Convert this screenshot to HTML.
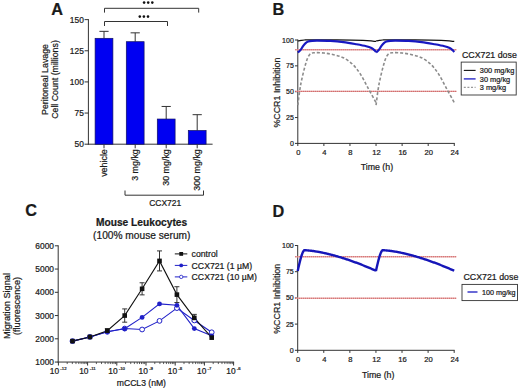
<!DOCTYPE html>
<html><head><meta charset="utf-8"><style>
html,body{margin:0;padding:0;background:#fff;}
body{width:520px;height:388px;overflow:hidden;}
svg{display:block;font-family:"Liberation Sans",sans-serif;}
text{stroke:#1a1a1a;stroke-width:0.22px;}
</style></head><body>
<svg width="520" height="388" viewBox="0 0 520 388">
<rect width="520" height="388" fill="#fff"/>
<text x="51.20" y="15.30" font-size="16.3" text-anchor="start" fill="#1a1a1a" font-weight="bold" >A</text>
<line x1="88.40" y1="19.14" x2="88.40" y2="144.70" stroke="#333" stroke-width="1" />
<line x1="84.60" y1="19.64" x2="88.40" y2="19.64" stroke="#333" stroke-width="1" />
<text x="83.80" y="22.64" font-size="8.4" text-anchor="end" fill="#1a1a1a" >150</text>
<line x1="84.60" y1="50.78" x2="88.40" y2="50.78" stroke="#333" stroke-width="1" />
<text x="83.80" y="53.78" font-size="8.4" text-anchor="end" fill="#1a1a1a" >125</text>
<line x1="84.60" y1="81.92" x2="88.40" y2="81.92" stroke="#333" stroke-width="1" />
<text x="83.80" y="84.92" font-size="8.4" text-anchor="end" fill="#1a1a1a" >100</text>
<line x1="84.60" y1="113.06" x2="88.40" y2="113.06" stroke="#333" stroke-width="1" />
<text x="83.80" y="116.06" font-size="8.4" text-anchor="end" fill="#1a1a1a" >75</text>
<line x1="84.60" y1="144.20" x2="88.40" y2="144.20" stroke="#333" stroke-width="1" />
<text x="83.80" y="147.20" font-size="8.4" text-anchor="end" fill="#1a1a1a" >50</text>
<line x1="87.90" y1="144.20" x2="212.60" y2="144.20" stroke="#333" stroke-width="1" />
<line x1="104.00" y1="31.35" x2="104.00" y2="38.32" stroke="#333" stroke-width="1" />
<line x1="99.40" y1="31.35" x2="108.60" y2="31.35" stroke="#333" stroke-width="1" />
<rect x="95.10" y="38.32" width="17.8" height="105.88" fill="#0000f2" stroke="#101060" stroke-width="0.7"/>
<line x1="104.00" y1="144.20" x2="104.00" y2="148.30" stroke="#333" stroke-width="1" />
<line x1="135.20" y1="32.84" x2="135.20" y2="41.69" stroke="#333" stroke-width="1" />
<line x1="130.60" y1="32.84" x2="139.80" y2="32.84" stroke="#333" stroke-width="1" />
<rect x="126.30" y="41.69" width="17.8" height="102.51" fill="#0000f2" stroke="#101060" stroke-width="0.7"/>
<line x1="135.20" y1="144.20" x2="135.20" y2="148.30" stroke="#333" stroke-width="1" />
<line x1="166.20" y1="106.46" x2="166.20" y2="119.04" stroke="#333" stroke-width="1" />
<line x1="161.60" y1="106.46" x2="170.80" y2="106.46" stroke="#333" stroke-width="1" />
<rect x="157.30" y="119.04" width="17.8" height="25.16" fill="#0000f2" stroke="#101060" stroke-width="0.7"/>
<line x1="166.20" y1="144.20" x2="166.20" y2="148.30" stroke="#333" stroke-width="1" />
<line x1="197.20" y1="114.68" x2="197.20" y2="130.50" stroke="#333" stroke-width="1" />
<line x1="192.60" y1="114.68" x2="201.80" y2="114.68" stroke="#333" stroke-width="1" />
<rect x="188.30" y="130.50" width="17.8" height="13.70" fill="#0000f2" stroke="#101060" stroke-width="0.7"/>
<line x1="197.20" y1="144.20" x2="197.20" y2="148.30" stroke="#333" stroke-width="1" />
<text transform="translate(107.10,149.2) rotate(-90)" font-size="8.9" text-anchor="end" fill="#1a1a1a">vehicle</text>
<text transform="translate(138.30,149.2) rotate(-90)" font-size="8.9" text-anchor="end" fill="#1a1a1a">3 mg/kg</text>
<text transform="translate(169.30,149.2) rotate(-90)" font-size="8.9" text-anchor="end" fill="#1a1a1a">30 mg/kg</text>
<text transform="translate(200.30,149.2) rotate(-90)" font-size="8.9" text-anchor="end" fill="#1a1a1a">300 mg/kg</text>
<text transform="translate(48.00,79.50) rotate(-90)" font-size="8.8" text-anchor="middle" fill="#1a1a1a">Peritoneal Lavage</text>
<text transform="translate(58.00,79.50) rotate(-90)" font-size="8.8" text-anchor="middle" fill="#1a1a1a">Cell Count (millions)</text>
<path d="M104.5,12.6 V8.3 H198.7 V12.6" stroke="#333" stroke-width="1" fill="none" />
<path d="M104.5,26 V21.5 H167.5 V26" stroke="#333" stroke-width="1" fill="none" />
<circle cx="144.10" cy="2.6" r="1.3" fill="#111"/>
<circle cx="148.20" cy="2.6" r="1.3" fill="#111"/>
<circle cx="152.30" cy="2.6" r="1.3" fill="#111"/>
<circle cx="139.80" cy="16.6" r="1.3" fill="#111"/>
<circle cx="143.90" cy="16.6" r="1.3" fill="#111"/>
<circle cx="148.00" cy="16.6" r="1.3" fill="#111"/>
<path d="M125,190.5 V195.2 H203.5 V190.5" stroke="#333" stroke-width="1" fill="none" />
<text x="165.20" y="206.00" font-size="8.5" text-anchor="middle" fill="#1a1a1a" >CCX721</text>
<text x="272.50" y="15.30" font-size="16.3" text-anchor="start" fill="#1a1a1a" font-weight="bold" >B</text>
<line x1="297.80" y1="39.50" x2="297.80" y2="143.90" stroke="#333" stroke-width="1" />
<line x1="295.00" y1="40.00" x2="297.80" y2="40.00" stroke="#333" stroke-width="1" />
<text x="293.80" y="42.50" font-size="7.0" text-anchor="end" fill="#1a1a1a" >100</text>
<line x1="295.00" y1="65.85" x2="297.80" y2="65.85" stroke="#333" stroke-width="1" />
<text x="293.80" y="68.35" font-size="7.0" text-anchor="end" fill="#1a1a1a" >75</text>
<line x1="295.00" y1="91.70" x2="297.80" y2="91.70" stroke="#333" stroke-width="1" />
<text x="293.80" y="94.20" font-size="7.0" text-anchor="end" fill="#1a1a1a" >50</text>
<line x1="295.00" y1="117.55" x2="297.80" y2="117.55" stroke="#333" stroke-width="1" />
<text x="293.80" y="120.05" font-size="7.0" text-anchor="end" fill="#1a1a1a" >25</text>
<line x1="295.00" y1="143.40" x2="297.80" y2="143.40" stroke="#333" stroke-width="1" />
<text x="293.80" y="145.90" font-size="7.0" text-anchor="end" fill="#1a1a1a" >0</text>
<line x1="297.30" y1="143.40" x2="454.78" y2="143.40" stroke="#333" stroke-width="1" />
<line x1="297.80" y1="143.40" x2="297.80" y2="146.00" stroke="#333" stroke-width="1" />
<text x="298.30" y="154.60" font-size="7.6" text-anchor="middle" fill="#1a1a1a" >0</text>
<line x1="323.88" y1="143.40" x2="323.88" y2="146.00" stroke="#333" stroke-width="1" />
<text x="324.38" y="154.60" font-size="7.6" text-anchor="middle" fill="#1a1a1a" >4</text>
<line x1="349.96" y1="143.40" x2="349.96" y2="146.00" stroke="#333" stroke-width="1" />
<text x="350.46" y="154.60" font-size="7.6" text-anchor="middle" fill="#1a1a1a" >8</text>
<line x1="376.04" y1="143.40" x2="376.04" y2="146.00" stroke="#333" stroke-width="1" />
<text x="376.54" y="154.60" font-size="7.6" text-anchor="middle" fill="#1a1a1a" >12</text>
<line x1="402.12" y1="143.40" x2="402.12" y2="146.00" stroke="#333" stroke-width="1" />
<text x="402.62" y="154.60" font-size="7.6" text-anchor="middle" fill="#1a1a1a" >16</text>
<line x1="428.20" y1="143.40" x2="428.20" y2="146.00" stroke="#333" stroke-width="1" />
<text x="428.70" y="154.60" font-size="7.6" text-anchor="middle" fill="#1a1a1a" >20</text>
<line x1="454.28" y1="143.40" x2="454.28" y2="146.00" stroke="#333" stroke-width="1" />
<text x="454.78" y="154.60" font-size="7.6" text-anchor="middle" fill="#1a1a1a" >24</text>
<text transform="translate(280.00,92.60) rotate(-90)" font-size="8.9" text-anchor="middle" fill="#1a1a1a">%CCR1 Inhibition</text>
<text x="376.90" y="169.60" font-size="8.8" text-anchor="middle" fill="#1a1a1a" >Time (h)</text>
<line x1="295.30" y1="49.80" x2="456.28" y2="49.80" stroke="#ecb4b4" stroke-width="1.4" />
<line x1="295.30" y1="49.80" x2="456.28" y2="49.80" stroke="#c85050" stroke-width="1.1" stroke-dasharray="1 1"/>
<line x1="295.30" y1="91.40" x2="456.28" y2="91.40" stroke="#ecb4b4" stroke-width="1.4" />
<line x1="295.30" y1="91.40" x2="456.28" y2="91.40" stroke="#c85050" stroke-width="1.1" stroke-dasharray="1 1"/>
<path d="M297.80,105.14 C298.29,101.70 299.43,91.32 300.73,84.46 C302.04,77.60 304.16,68.95 305.62,63.99 C307.09,59.03 308.01,56.56 309.54,54.68 C311.06,52.80 312.36,52.99 314.75,52.72 C317.14,52.44 320.73,52.70 323.88,53.03 C327.03,53.36 330.40,53.89 333.66,54.68 C336.92,55.48 340.29,56.18 343.44,57.78 C346.59,59.39 349.74,61.58 352.57,64.30 C355.39,67.02 357.78,70.11 360.39,74.12 C363.00,78.14 365.61,83.65 368.22,88.39 C370.82,93.13 374.74,100.20 376.04,102.56" stroke="#8c8c8c" stroke-width="1.6" fill="none" stroke-dasharray="3 2" stroke-linejoin="round"/>
<path d="M376.04,105.14 C376.53,101.70 377.67,91.32 378.97,84.46 C380.28,77.60 382.40,68.95 383.86,63.99 C385.33,59.03 386.25,56.56 387.78,54.68 C389.30,52.80 390.60,52.99 392.99,52.72 C395.38,52.44 398.97,52.70 402.12,53.03 C405.27,53.36 408.64,53.89 411.90,54.68 C415.16,55.48 418.53,56.18 421.68,57.78 C424.83,59.39 427.98,61.58 430.81,64.30 C433.63,67.02 436.02,70.11 438.63,74.12 C441.24,78.14 443.85,83.65 446.46,88.39 C449.06,93.13 452.98,100.20 454.28,102.56" stroke="#8c8c8c" stroke-width="1.6" fill="none" stroke-dasharray="3 2" stroke-linejoin="round"/>
<path d="M297.80,41.03 C298.34,40.93 299.97,40.59 301.06,40.41 C302.15,40.24 302.69,40.10 304.32,40.00 C305.95,39.90 305.41,39.81 310.84,39.79 C316.27,39.78 328.23,39.79 336.92,39.90 C345.61,40.00 357.02,40.21 363.00,40.41 C368.98,40.62 370.61,40.97 372.78,41.14 C374.95,41.31 375.50,41.40 376.04,41.45" stroke="#111" stroke-width="1.2" fill="none"  stroke-linejoin="round"/>
<path d="M376.04,41.03 C376.58,40.93 378.21,40.59 379.30,40.41 C380.39,40.24 380.93,40.10 382.56,40.00 C384.19,39.90 383.65,39.81 389.08,39.79 C394.51,39.78 406.47,39.79 415.16,39.90 C423.85,40.00 435.26,40.21 441.24,40.41 C447.22,40.62 448.85,40.97 451.02,41.14 C453.19,41.31 453.74,41.40 454.28,41.45" stroke="#111" stroke-width="1.2" fill="none"  stroke-linejoin="round"/>
<path d="M297.80,52.41 C298.23,52.03 299.54,51.17 300.41,50.13 C301.28,49.10 302.15,47.38 303.02,46.20 C303.89,45.03 304.75,43.88 305.62,43.10 C306.49,42.33 307.15,41.93 308.23,41.55 C309.32,41.17 310.62,40.98 312.14,40.83 C313.67,40.67 314.32,40.60 317.36,40.62 C320.40,40.64 326.05,40.69 330.40,40.93 C334.75,41.17 339.09,41.52 343.44,42.07 C347.79,42.62 352.68,43.55 356.48,44.24 C360.28,44.93 363.76,45.57 366.26,46.20 C368.76,46.84 370.17,47.44 371.48,48.07 C372.78,48.69 373.32,49.27 374.08,49.93 C374.84,50.58 375.71,51.65 376.04,51.99" stroke="#1818c0" stroke-width="2.2" fill="none"  stroke-linejoin="round"/>
<path d="M376.04,52.41 C376.47,52.03 377.78,51.17 378.65,50.13 C379.52,49.10 380.39,47.38 381.26,46.20 C382.13,45.03 382.99,43.88 383.86,43.10 C384.73,42.33 385.39,41.93 386.47,41.55 C387.56,41.17 388.86,40.98 390.38,40.83 C391.91,40.67 392.56,40.60 395.60,40.62 C398.64,40.64 404.29,40.69 408.64,40.93 C412.99,41.17 417.33,41.52 421.68,42.07 C426.03,42.62 430.92,43.55 434.72,44.24 C438.52,44.93 442.00,45.57 444.50,46.20 C447.00,46.84 448.41,47.44 449.72,48.07 C451.02,48.69 451.56,49.27 452.32,49.93 C453.08,50.58 453.95,51.65 454.28,51.99" stroke="#1818c0" stroke-width="2.2" fill="none"  stroke-linejoin="round"/>
<text x="462.00" y="58.00" font-size="8.8" text-anchor="start" fill="#1a1a1a" >CCX721 dose</text>
<rect x="461.2" y="62.1" width="55" height="32.9" fill="none" stroke="#333" stroke-width="0.9"/>
<line x1="463.80" y1="70.40" x2="475.60" y2="70.40" stroke="#111" stroke-width="1.1" />
<text x="479.80" y="73.10" font-size="7.4" text-anchor="start" fill="#1a1a1a" >300 mg/kg</text>
<line x1="463.80" y1="78.90" x2="475.60" y2="78.90" stroke="#2a2ac8" stroke-width="1.4" />
<text x="479.80" y="81.60" font-size="7.4" text-anchor="start" fill="#1a1a1a" >30 mg/kg</text>
<line x1="463.80" y1="87.40" x2="475.60" y2="87.40" stroke="#999" stroke-width="1.3" stroke-dasharray="2 1.6"/>
<text x="479.80" y="90.10" font-size="7.4" text-anchor="start" fill="#1a1a1a" >3 mg/kg</text>
<text x="272.50" y="216.70" font-size="16.3" text-anchor="start" fill="#1a1a1a" font-weight="bold" >D</text>
<line x1="297.70" y1="245.00" x2="297.70" y2="350.80" stroke="#333" stroke-width="1" />
<line x1="294.90" y1="245.50" x2="297.70" y2="245.50" stroke="#333" stroke-width="1" />
<text x="293.70" y="248.00" font-size="7.0" text-anchor="end" fill="#1a1a1a" >100</text>
<line x1="294.90" y1="271.70" x2="297.70" y2="271.70" stroke="#333" stroke-width="1" />
<text x="293.70" y="274.20" font-size="7.0" text-anchor="end" fill="#1a1a1a" >75</text>
<line x1="294.90" y1="297.90" x2="297.70" y2="297.90" stroke="#333" stroke-width="1" />
<text x="293.70" y="300.40" font-size="7.0" text-anchor="end" fill="#1a1a1a" >50</text>
<line x1="294.90" y1="324.10" x2="297.70" y2="324.10" stroke="#333" stroke-width="1" />
<text x="293.70" y="326.60" font-size="7.0" text-anchor="end" fill="#1a1a1a" >25</text>
<line x1="294.90" y1="350.30" x2="297.70" y2="350.30" stroke="#333" stroke-width="1" />
<text x="293.70" y="352.80" font-size="7.0" text-anchor="end" fill="#1a1a1a" >0</text>
<line x1="297.20" y1="350.30" x2="454.68" y2="350.30" stroke="#333" stroke-width="1" />
<line x1="297.70" y1="350.30" x2="297.70" y2="352.90" stroke="#333" stroke-width="1" />
<text x="298.20" y="361.50" font-size="7.6" text-anchor="middle" fill="#1a1a1a" >0</text>
<line x1="323.78" y1="350.30" x2="323.78" y2="352.90" stroke="#333" stroke-width="1" />
<text x="324.28" y="361.50" font-size="7.6" text-anchor="middle" fill="#1a1a1a" >4</text>
<line x1="349.86" y1="350.30" x2="349.86" y2="352.90" stroke="#333" stroke-width="1" />
<text x="350.36" y="361.50" font-size="7.6" text-anchor="middle" fill="#1a1a1a" >8</text>
<line x1="375.94" y1="350.30" x2="375.94" y2="352.90" stroke="#333" stroke-width="1" />
<text x="376.44" y="361.50" font-size="7.6" text-anchor="middle" fill="#1a1a1a" >12</text>
<line x1="402.02" y1="350.30" x2="402.02" y2="352.90" stroke="#333" stroke-width="1" />
<text x="402.52" y="361.50" font-size="7.6" text-anchor="middle" fill="#1a1a1a" >16</text>
<line x1="428.10" y1="350.30" x2="428.10" y2="352.90" stroke="#333" stroke-width="1" />
<text x="428.60" y="361.50" font-size="7.6" text-anchor="middle" fill="#1a1a1a" >20</text>
<line x1="454.18" y1="350.30" x2="454.18" y2="352.90" stroke="#333" stroke-width="1" />
<text x="454.68" y="361.50" font-size="7.6" text-anchor="middle" fill="#1a1a1a" >24</text>
<text transform="translate(280.00,298.80) rotate(-90)" font-size="8.9" text-anchor="middle" fill="#1a1a1a">%CCR1 Inhibition</text>
<text x="378.20" y="377.60" font-size="8.8" text-anchor="middle" fill="#1a1a1a" >Time (h)</text>
<line x1="295.20" y1="256.80" x2="456.18" y2="256.80" stroke="#ecb4b4" stroke-width="1.4" />
<line x1="295.20" y1="256.80" x2="456.18" y2="256.80" stroke="#c85050" stroke-width="1.1" stroke-dasharray="1 1"/>
<line x1="295.20" y1="298.20" x2="456.18" y2="298.20" stroke="#ecb4b4" stroke-width="1.4" />
<line x1="295.20" y1="298.20" x2="456.18" y2="298.20" stroke="#c85050" stroke-width="1.1" stroke-dasharray="1 1"/>
<path d="M297.70,271.07 L298.35,268.02 L299.00,265.14 L299.66,262.43 L300.31,259.91 L300.96,257.59 L301.61,255.49 L302.26,253.64 L302.92,252.08 L303.57,250.88 L304.22,250.22 L304.87,250.23 L305.52,250.26 L306.18,250.29 L306.83,250.34 L307.48,250.39 L308.13,250.44 L308.78,250.50 L309.44,250.57 L310.09,250.64 L310.74,250.71 L311.39,250.79 L312.04,250.88 L312.70,250.97 L313.35,251.06 L314.00,251.15 L314.65,251.25 L315.30,251.35 L315.96,251.46 L316.61,251.57 L317.26,251.68 L317.91,251.79 L318.56,251.91 L319.22,252.03 L319.87,252.15 L320.52,252.28 L321.17,252.41 L321.82,252.54 L322.48,252.68 L323.13,252.81 L323.78,252.95 L324.43,253.10 L325.08,253.24 L325.74,253.39 L326.39,253.54 L327.04,253.69 L327.69,253.85 L328.34,254.01 L329.00,254.17 L329.65,254.33 L330.30,254.49 L330.95,254.66 L331.60,254.83 L332.26,255.00 L332.91,255.17 L333.56,255.35 L334.21,255.53 L334.86,255.71 L335.52,255.89 L336.17,256.07 L336.82,256.26 L337.47,256.45 L338.12,256.64 L338.78,256.83 L339.43,257.03 L340.08,257.22 L340.73,257.42 L341.38,257.62 L342.04,257.82 L342.69,258.03 L343.34,258.23 L343.99,258.44 L344.64,258.65 L345.30,258.86 L345.95,259.08 L346.60,259.29 L347.25,259.51 L347.90,259.73 L348.56,259.95 L349.21,260.17 L349.86,260.40 L350.51,260.63 L351.16,260.85 L351.82,261.08 L352.47,261.31 L353.12,261.55 L353.77,261.78 L354.42,262.02 L355.08,262.26 L355.73,262.50 L356.38,262.74 L357.03,262.98 L357.68,263.23 L358.34,263.48 L358.99,263.72 L359.64,263.97 L360.29,264.23 L360.94,264.48 L361.60,264.73 L362.25,264.99 L362.90,265.25 L363.55,265.51 L364.20,265.77 L364.86,266.03 L365.51,266.30 L366.16,266.56 L366.81,266.83 L367.46,267.10 L368.12,267.37 L368.77,267.64 L369.42,267.92 L370.07,268.19 L370.72,268.47 L371.38,268.75 L372.03,269.03 L372.68,269.31 L373.33,269.59 L373.98,269.87 L374.64,270.16 L375.29,270.45 L375.94,270.73 L375.94,271.07 L376.59,268.02 L377.24,265.14 L377.90,262.43 L378.55,259.91 L379.20,257.59 L379.85,255.49 L380.50,253.64 L381.16,252.08 L381.81,250.88 L382.46,250.22 L383.11,250.23 L383.76,250.26 L384.42,250.29 L385.07,250.34 L385.72,250.39 L386.37,250.44 L387.02,250.50 L387.68,250.57 L388.33,250.64 L388.98,250.71 L389.63,250.79 L390.28,250.88 L390.94,250.97 L391.59,251.06 L392.24,251.15 L392.89,251.25 L393.54,251.35 L394.20,251.46 L394.85,251.57 L395.50,251.68 L396.15,251.79 L396.80,251.91 L397.46,252.03 L398.11,252.15 L398.76,252.28 L399.41,252.41 L400.06,252.54 L400.72,252.68 L401.37,252.81 L402.02,252.95 L402.67,253.10 L403.32,253.24 L403.98,253.39 L404.63,253.54 L405.28,253.69 L405.93,253.85 L406.58,254.01 L407.24,254.17 L407.89,254.33 L408.54,254.49 L409.19,254.66 L409.84,254.83 L410.50,255.00 L411.15,255.17 L411.80,255.35 L412.45,255.53 L413.10,255.71 L413.76,255.89 L414.41,256.07 L415.06,256.26 L415.71,256.45 L416.36,256.64 L417.02,256.83 L417.67,257.03 L418.32,257.22 L418.97,257.42 L419.62,257.62 L420.28,257.82 L420.93,258.03 L421.58,258.23 L422.23,258.44 L422.88,258.65 L423.54,258.86 L424.19,259.08 L424.84,259.29 L425.49,259.51 L426.14,259.73 L426.80,259.95 L427.45,260.17 L428.10,260.40 L428.75,260.63 L429.40,260.85 L430.06,261.08 L430.71,261.31 L431.36,261.55 L432.01,261.78 L432.66,262.02 L433.32,262.26 L433.97,262.50 L434.62,262.74 L435.27,262.98 L435.92,263.23 L436.58,263.48 L437.23,263.72 L437.88,263.97 L438.53,264.23 L439.18,264.48 L439.84,264.73 L440.49,264.99 L441.14,265.25 L441.79,265.51 L442.44,265.77 L443.10,266.03 L443.75,266.30 L444.40,266.56 L445.05,266.83 L445.70,267.10 L446.36,267.37 L447.01,267.64 L447.66,267.92 L448.31,268.19 L448.96,268.47 L449.62,268.75 L450.27,269.03 L450.92,269.31 L451.57,269.59 L452.22,269.87 L452.88,270.16 L453.53,270.45 L454.18,270.73" stroke="#1616b8" stroke-width="2.4" fill="none" stroke-linejoin="miter"/>
<text x="463.50" y="280.20" font-size="8.8" text-anchor="start" fill="#1a1a1a" >CCX721 dose</text>
<rect x="462.0" y="284.4" width="55.5" height="16.2" fill="none" stroke="#333" stroke-width="0.9"/>
<line x1="467.50" y1="292.00" x2="477.50" y2="292.00" stroke="#1818c0" stroke-width="1.3" />
<text x="482.00" y="294.80" font-size="7.2" text-anchor="start" fill="#1a1a1a" >100 mg/kg</text>
<text x="25.20" y="216.40" font-size="16.3" text-anchor="start" fill="#1a1a1a" font-weight="bold" >C</text>
<text x="141.60" y="226.00" font-size="10.2" text-anchor="middle" fill="#1a1a1a" font-weight="bold" >Mouse Leukocytes</text>
<text x="141.80" y="239.00" font-size="10.2" text-anchor="middle" fill="#1a1a1a" >(100% mouse serum)</text>
<line x1="58.20" y1="245.30" x2="58.20" y2="362.55" stroke="#333" stroke-width="1" />
<line x1="54.90" y1="245.80" x2="58.20" y2="245.80" stroke="#333" stroke-width="1" />
<text x="54.00" y="248.80" font-size="8.4" text-anchor="end" fill="#1a1a1a" >6000</text>
<line x1="54.90" y1="269.05" x2="58.20" y2="269.05" stroke="#333" stroke-width="1" />
<text x="54.00" y="272.05" font-size="8.4" text-anchor="end" fill="#1a1a1a" >5000</text>
<line x1="54.90" y1="292.30" x2="58.20" y2="292.30" stroke="#333" stroke-width="1" />
<text x="54.00" y="295.30" font-size="8.4" text-anchor="end" fill="#1a1a1a" >4000</text>
<line x1="54.90" y1="315.55" x2="58.20" y2="315.55" stroke="#333" stroke-width="1" />
<text x="54.00" y="318.55" font-size="8.4" text-anchor="end" fill="#1a1a1a" >3000</text>
<line x1="54.90" y1="338.80" x2="58.20" y2="338.80" stroke="#333" stroke-width="1" />
<text x="54.00" y="341.80" font-size="8.4" text-anchor="end" fill="#1a1a1a" >2000</text>
<line x1="54.90" y1="362.05" x2="58.20" y2="362.05" stroke="#333" stroke-width="1" />
<text x="54.00" y="365.05" font-size="8.4" text-anchor="end" fill="#1a1a1a" >1000</text>
<line x1="57.70" y1="362.05" x2="234.10" y2="362.05" stroke="#333" stroke-width="1" />
<line x1="58.40" y1="362.05" x2="58.40" y2="365.55" stroke="#333" stroke-width="1" />
<line x1="67.19" y1="362.05" x2="67.19" y2="364.05" stroke="#333" stroke-width="0.8" />
<line x1="72.33" y1="362.05" x2="72.33" y2="364.05" stroke="#333" stroke-width="0.8" />
<line x1="75.98" y1="362.05" x2="75.98" y2="364.05" stroke="#333" stroke-width="0.8" />
<line x1="78.81" y1="362.05" x2="78.81" y2="364.05" stroke="#333" stroke-width="0.8" />
<line x1="81.12" y1="362.05" x2="81.12" y2="364.05" stroke="#333" stroke-width="0.8" />
<line x1="83.08" y1="362.05" x2="83.08" y2="364.05" stroke="#333" stroke-width="0.8" />
<line x1="84.77" y1="362.05" x2="84.77" y2="364.05" stroke="#333" stroke-width="0.8" />
<line x1="86.26" y1="362.05" x2="86.26" y2="364.05" stroke="#333" stroke-width="0.8" />
<text x="58.20" y="373.75" font-size="8.4" text-anchor="middle" fill="#1a1a1a">10<tspan font-size="4.3" dx="1.2" dy="-3.6">-12</tspan></text>
<line x1="87.60" y1="362.05" x2="87.60" y2="365.55" stroke="#333" stroke-width="1" />
<line x1="96.39" y1="362.05" x2="96.39" y2="364.05" stroke="#333" stroke-width="0.8" />
<line x1="101.53" y1="362.05" x2="101.53" y2="364.05" stroke="#333" stroke-width="0.8" />
<line x1="105.18" y1="362.05" x2="105.18" y2="364.05" stroke="#333" stroke-width="0.8" />
<line x1="108.01" y1="362.05" x2="108.01" y2="364.05" stroke="#333" stroke-width="0.8" />
<line x1="110.32" y1="362.05" x2="110.32" y2="364.05" stroke="#333" stroke-width="0.8" />
<line x1="112.28" y1="362.05" x2="112.28" y2="364.05" stroke="#333" stroke-width="0.8" />
<line x1="113.97" y1="362.05" x2="113.97" y2="364.05" stroke="#333" stroke-width="0.8" />
<line x1="115.46" y1="362.05" x2="115.46" y2="364.05" stroke="#333" stroke-width="0.8" />
<text x="87.40" y="373.75" font-size="8.4" text-anchor="middle" fill="#1a1a1a">10<tspan font-size="4.3" dx="1.2" dy="-3.6">-11</tspan></text>
<line x1="116.80" y1="362.05" x2="116.80" y2="365.55" stroke="#333" stroke-width="1" />
<line x1="125.59" y1="362.05" x2="125.59" y2="364.05" stroke="#333" stroke-width="0.8" />
<line x1="130.73" y1="362.05" x2="130.73" y2="364.05" stroke="#333" stroke-width="0.8" />
<line x1="134.38" y1="362.05" x2="134.38" y2="364.05" stroke="#333" stroke-width="0.8" />
<line x1="137.21" y1="362.05" x2="137.21" y2="364.05" stroke="#333" stroke-width="0.8" />
<line x1="139.52" y1="362.05" x2="139.52" y2="364.05" stroke="#333" stroke-width="0.8" />
<line x1="141.48" y1="362.05" x2="141.48" y2="364.05" stroke="#333" stroke-width="0.8" />
<line x1="143.17" y1="362.05" x2="143.17" y2="364.05" stroke="#333" stroke-width="0.8" />
<line x1="144.66" y1="362.05" x2="144.66" y2="364.05" stroke="#333" stroke-width="0.8" />
<text x="116.60" y="373.75" font-size="8.4" text-anchor="middle" fill="#1a1a1a">10<tspan font-size="4.3" dx="1.2" dy="-3.6">-10</tspan></text>
<line x1="146.00" y1="362.05" x2="146.00" y2="365.55" stroke="#333" stroke-width="1" />
<line x1="154.79" y1="362.05" x2="154.79" y2="364.05" stroke="#333" stroke-width="0.8" />
<line x1="159.93" y1="362.05" x2="159.93" y2="364.05" stroke="#333" stroke-width="0.8" />
<line x1="163.58" y1="362.05" x2="163.58" y2="364.05" stroke="#333" stroke-width="0.8" />
<line x1="166.41" y1="362.05" x2="166.41" y2="364.05" stroke="#333" stroke-width="0.8" />
<line x1="168.72" y1="362.05" x2="168.72" y2="364.05" stroke="#333" stroke-width="0.8" />
<line x1="170.68" y1="362.05" x2="170.68" y2="364.05" stroke="#333" stroke-width="0.8" />
<line x1="172.37" y1="362.05" x2="172.37" y2="364.05" stroke="#333" stroke-width="0.8" />
<line x1="173.86" y1="362.05" x2="173.86" y2="364.05" stroke="#333" stroke-width="0.8" />
<text x="145.80" y="373.75" font-size="8.4" text-anchor="middle" fill="#1a1a1a">10<tspan font-size="4.3" dx="1.2" dy="-3.6">-9</tspan></text>
<line x1="175.20" y1="362.05" x2="175.20" y2="365.55" stroke="#333" stroke-width="1" />
<line x1="183.99" y1="362.05" x2="183.99" y2="364.05" stroke="#333" stroke-width="0.8" />
<line x1="189.13" y1="362.05" x2="189.13" y2="364.05" stroke="#333" stroke-width="0.8" />
<line x1="192.78" y1="362.05" x2="192.78" y2="364.05" stroke="#333" stroke-width="0.8" />
<line x1="195.61" y1="362.05" x2="195.61" y2="364.05" stroke="#333" stroke-width="0.8" />
<line x1="197.92" y1="362.05" x2="197.92" y2="364.05" stroke="#333" stroke-width="0.8" />
<line x1="199.88" y1="362.05" x2="199.88" y2="364.05" stroke="#333" stroke-width="0.8" />
<line x1="201.57" y1="362.05" x2="201.57" y2="364.05" stroke="#333" stroke-width="0.8" />
<line x1="203.06" y1="362.05" x2="203.06" y2="364.05" stroke="#333" stroke-width="0.8" />
<text x="175.00" y="373.75" font-size="8.4" text-anchor="middle" fill="#1a1a1a">10<tspan font-size="4.3" dx="1.2" dy="-3.6">-8</tspan></text>
<line x1="204.40" y1="362.05" x2="204.40" y2="365.55" stroke="#333" stroke-width="1" />
<line x1="213.19" y1="362.05" x2="213.19" y2="364.05" stroke="#333" stroke-width="0.8" />
<line x1="218.33" y1="362.05" x2="218.33" y2="364.05" stroke="#333" stroke-width="0.8" />
<line x1="221.98" y1="362.05" x2="221.98" y2="364.05" stroke="#333" stroke-width="0.8" />
<line x1="224.81" y1="362.05" x2="224.81" y2="364.05" stroke="#333" stroke-width="0.8" />
<line x1="227.12" y1="362.05" x2="227.12" y2="364.05" stroke="#333" stroke-width="0.8" />
<line x1="229.08" y1="362.05" x2="229.08" y2="364.05" stroke="#333" stroke-width="0.8" />
<line x1="230.77" y1="362.05" x2="230.77" y2="364.05" stroke="#333" stroke-width="0.8" />
<line x1="232.26" y1="362.05" x2="232.26" y2="364.05" stroke="#333" stroke-width="0.8" />
<text x="204.20" y="373.75" font-size="8.4" text-anchor="middle" fill="#1a1a1a">10<tspan font-size="4.3" dx="1.2" dy="-3.6">-7</tspan></text>
<line x1="233.60" y1="362.05" x2="233.60" y2="365.55" stroke="#333" stroke-width="1" />
<text x="233.40" y="373.75" font-size="8.4" text-anchor="middle" fill="#1a1a1a">10<tspan font-size="4.3" dx="1.2" dy="-3.6">-6</tspan></text>
<text x="141.40" y="386.00" font-size="8.6" text-anchor="middle" fill="#1a1a1a" >mCCL3 (nM)</text>
<text transform="translate(10.20,306.00) rotate(-90)" font-size="9.2" text-anchor="middle" fill="#1a1a1a">Migration Signal</text>
<text transform="translate(20.20,306.00) rotate(-90)" font-size="9.2" text-anchor="middle" fill="#1a1a1a">(fluorescence)</text>
<polyline points="72.50,341.12 89.90,336.94 107.30,331.82 124.70,328.57 142.10,329.50 159.50,320.90 176.90,308.11 194.30,320.43 211.70,332.29" fill="none" stroke="#2020c8" stroke-width="1.1"/>
<polyline points="72.50,341.12 89.90,336.94 107.30,331.82 124.70,328.80 142.10,317.41 159.50,303.93 176.90,305.32 194.30,328.57 211.70,335.78" fill="none" stroke="#2020c8" stroke-width="1.1"/>
<polyline points="72.50,341.12 89.90,336.94 107.30,330.66 124.70,315.55 142.10,288.81 159.50,260.91 176.90,294.62 194.30,317.88 211.70,337.64" fill="none" stroke="#111" stroke-width="1.1"/>
<line x1="107.30" y1="328.80" x2="107.30" y2="332.52" stroke="#333" stroke-width="1" />
<line x1="104.80" y1="328.80" x2="109.80" y2="328.80" stroke="#333" stroke-width="1" />
<line x1="104.80" y1="332.52" x2="109.80" y2="332.52" stroke="#333" stroke-width="1" />
<line x1="124.70" y1="308.92" x2="124.70" y2="322.18" stroke="#333" stroke-width="1" />
<line x1="122.20" y1="308.92" x2="127.20" y2="308.92" stroke="#333" stroke-width="1" />
<line x1="122.20" y1="322.18" x2="127.20" y2="322.18" stroke="#333" stroke-width="1" />
<line x1="142.10" y1="282.77" x2="142.10" y2="294.86" stroke="#333" stroke-width="1" />
<line x1="139.60" y1="282.77" x2="144.60" y2="282.77" stroke="#333" stroke-width="1" />
<line x1="139.60" y1="294.86" x2="144.60" y2="294.86" stroke="#333" stroke-width="1" />
<line x1="159.50" y1="250.92" x2="159.50" y2="270.91" stroke="#333" stroke-width="1" />
<line x1="157.00" y1="250.92" x2="162.00" y2="250.92" stroke="#333" stroke-width="1" />
<line x1="157.00" y1="270.91" x2="162.00" y2="270.91" stroke="#333" stroke-width="1" />
<line x1="176.90" y1="286.72" x2="176.90" y2="302.53" stroke="#333" stroke-width="1" />
<line x1="174.40" y1="286.72" x2="179.40" y2="286.72" stroke="#333" stroke-width="1" />
<line x1="174.40" y1="302.53" x2="179.40" y2="302.53" stroke="#333" stroke-width="1" />
<line x1="194.30" y1="314.39" x2="194.30" y2="321.36" stroke="#333" stroke-width="1" />
<line x1="191.80" y1="314.39" x2="196.80" y2="314.39" stroke="#333" stroke-width="1" />
<line x1="191.80" y1="321.36" x2="196.80" y2="321.36" stroke="#333" stroke-width="1" />
<circle cx="72.50" cy="341.12" r="2.4" fill="#fff" stroke="#2020c8" stroke-width="1"/>
<circle cx="89.90" cy="336.94" r="2.4" fill="#fff" stroke="#2020c8" stroke-width="1"/>
<circle cx="107.30" cy="331.82" r="2.4" fill="#fff" stroke="#2020c8" stroke-width="1"/>
<circle cx="124.70" cy="328.57" r="2.4" fill="#fff" stroke="#2020c8" stroke-width="1"/>
<circle cx="142.10" cy="329.50" r="2.4" fill="#fff" stroke="#2020c8" stroke-width="1"/>
<circle cx="159.50" cy="320.90" r="2.4" fill="#fff" stroke="#2020c8" stroke-width="1"/>
<circle cx="176.90" cy="308.11" r="2.4" fill="#fff" stroke="#2020c8" stroke-width="1"/>
<circle cx="194.30" cy="320.43" r="2.4" fill="#fff" stroke="#2020c8" stroke-width="1"/>
<circle cx="211.70" cy="332.29" r="2.4" fill="#fff" stroke="#2020c8" stroke-width="1"/>
<circle cx="72.50" cy="341.12" r="2.4" fill="#2020c8"/>
<circle cx="89.90" cy="336.94" r="2.4" fill="#2020c8"/>
<circle cx="107.30" cy="331.82" r="2.4" fill="#2020c8"/>
<circle cx="124.70" cy="328.80" r="2.4" fill="#2020c8"/>
<circle cx="142.10" cy="317.41" r="2.4" fill="#2020c8"/>
<circle cx="159.50" cy="303.93" r="2.4" fill="#2020c8"/>
<circle cx="176.90" cy="305.32" r="2.4" fill="#2020c8"/>
<circle cx="194.30" cy="328.57" r="2.4" fill="#2020c8"/>
<circle cx="211.70" cy="335.78" r="2.4" fill="#2020c8"/>
<rect x="70.20" y="338.82" width="4.6" height="4.6" fill="#111"/>
<rect x="87.60" y="334.64" width="4.6" height="4.6" fill="#111"/>
<rect x="105.00" y="328.36" width="4.6" height="4.6" fill="#111"/>
<rect x="122.40" y="313.25" width="4.6" height="4.6" fill="#111"/>
<rect x="139.80" y="286.51" width="4.6" height="4.6" fill="#111"/>
<rect x="157.20" y="258.61" width="4.6" height="4.6" fill="#111"/>
<rect x="174.60" y="292.32" width="4.6" height="4.6" fill="#111"/>
<rect x="192.00" y="315.57" width="4.6" height="4.6" fill="#111"/>
<rect x="209.40" y="335.34" width="4.6" height="4.6" fill="#111"/>
<line x1="174.80" y1="253.90" x2="187.30" y2="253.90" stroke="#111" stroke-width="1" />
<rect x="179.3" y="252.00" width="3.8" height="3.8" fill="#111"/>
<text x="191.60" y="257.00" font-size="8.7" text-anchor="start" fill="#1a1a1a" >control</text>
<line x1="174.80" y1="265.40" x2="187.30" y2="265.40" stroke="#2020c8" stroke-width="1" />
<circle cx="181.2" cy="265.40" r="1.9" fill="#2020c8"/>
<text x="191.60" y="268.50" font-size="8.7" text-anchor="start" fill="#1a1a1a" >CCX721 (1 µM)</text>
<line x1="174.80" y1="276.90" x2="187.30" y2="276.90" stroke="#2020c8" stroke-width="1" />
<circle cx="181.2" cy="276.90" r="1.7" fill="#fff" stroke="#2020c8" stroke-width="0.8"/>
<text x="191.60" y="280.00" font-size="8.7" text-anchor="start" fill="#1a1a1a" >CCX721 (10 µM)</text>
</svg>
</body></html>
